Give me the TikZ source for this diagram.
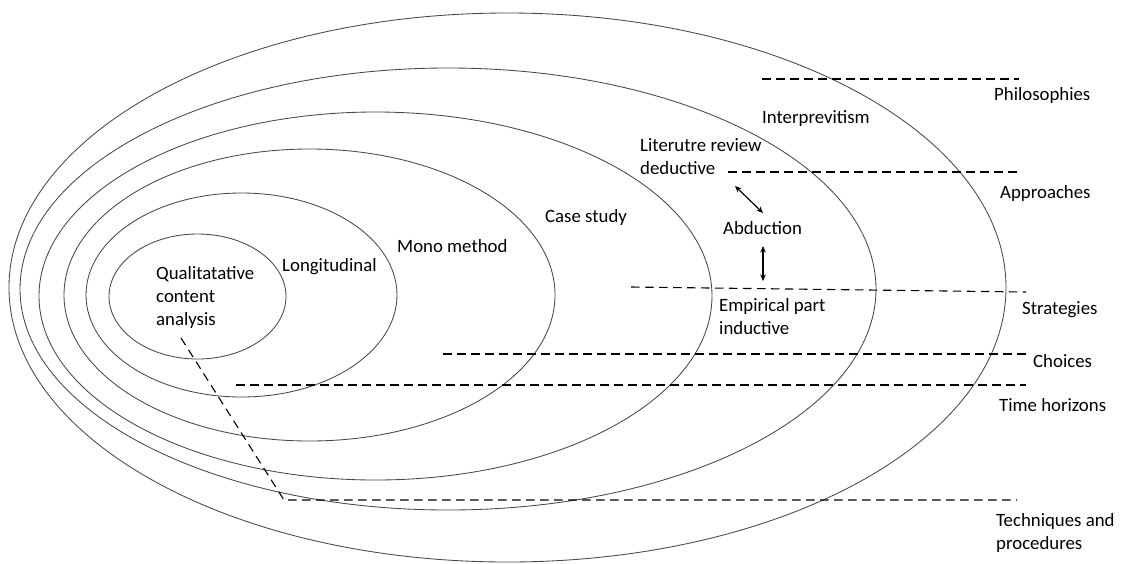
\documentclass[tikz,border=0pt]{standalone}
\usepackage{fontspec}
\setmainfont{Carlito}
\usetikzlibrary{arrows.meta}
\tikzset{
  ring/.style={draw=black!72, line width=0.85pt},
  layerline/.style={draw=black, line width=1.1pt, dash pattern=on 8.5pt off 5.5pt},
  twoway/.style={draw=black, line width=1.2pt,
    {Stealth[length=6.5pt,width=5.5pt]}-{Stealth[length=6.5pt,width=5.5pt]}},
  lbl/.style={font=\fontsize{18.8}{22.6}\selectfont, inner sep=0pt,
    anchor=base west, align=left},
}
\begin{document}
\begin{tikzpicture}[x=1pt,y=-1pt]
\useasboundingbox (0,0) rectangle (1121,563);

% nested research-onion rings, outermost first
\draw[ring] (507.5,287.5) ellipse [x radius=498.5pt, y radius=274.5pt];
\draw[ring] (448,289)     ellipse [x radius=428pt,   y radius=221pt];
\draw[ring] (375.5,296)   ellipse [x radius=336.5pt, y radius=184pt];
\draw[ring] (309.5,295)   ellipse [x radius=245.5pt, y radius=146pt];
\draw[ring] (241.5,295)   ellipse [x radius=155.5pt, y radius=102pt];
\draw[ring] (197.5,296.5) ellipse [x radius=88.5pt,  y radius=62.5pt];

% end points of the layer separators
\coordinate (phiL) at (762,79);   \coordinate (phiR) at (1019,79);
\coordinate (appL) at (728,172);  \coordinate (appR) at (1022,172);
\coordinate (strL) at (631,287);  \coordinate (strR) at (1026,292);
\coordinate (choL) at (443,354);  \coordinate (choR) at (1026,354);
\coordinate (timL) at (236,385);  \coordinate (timR) at (1026,385);
\coordinate (qcaT) at (181,338);
\coordinate (tecL) at (284,500);  \coordinate (tecR) at (1017,500);

% layer separators
\draw[layerline] (phiL) -- (phiR);
\draw[layerline] (appL) -- (appR);
\draw[layerline] (strL) -- (strR);
\draw[layerline] (choL) -- (choR);
\draw[layerline] (timL) -- (timR);
\draw[layerline] (qcaT) -- (tecL) -- (tecR);

% layer names on the right (multi-line nodes sit on their last baseline)
\node[lbl] (philo) at (994,100)  {Philosophies};
\node[lbl] (appro) at (1000,198) {Approaches};
\node[lbl] (strat) at (1022,314) {Strategies};
\node[lbl] (choic) at (1033,367) {Choices};
\node[lbl] (timeh) at (999,411)  {Time horizons};
\node[lbl] (techn) at (996,549)  {Techniques and\\procedures};

% choices made inside the rings
\node[lbl] (interp) at (762,123) {Interprevitism};
\node[lbl] (deduct) at (640,174) {Literutre review\\deductive};
\node[lbl] (abduct) at (723,234) {Abduction};
\node[lbl] (induct) at (719,334) {Empirical part\\inductive};
\node[lbl] (casest) at (545,222) {Case study};
\node[lbl] (monome) at (397,252) {Mono method};
\node[lbl] (longit) at (282,271) {Longitudinal};
\node[lbl] (qualit) at (156,325) {Qualitatative\\content\\analysis};

% links between the reasoning approaches
\coordinate (dA) at (735,186); \coordinate (dB) at (763,213);
\coordinate (eA) at (763,246); \coordinate (eB) at (763,281);
\draw[twoway] (dA) -- (dB);
\draw[twoway] (eA) -- (eB);
\end{tikzpicture}
\end{document}
